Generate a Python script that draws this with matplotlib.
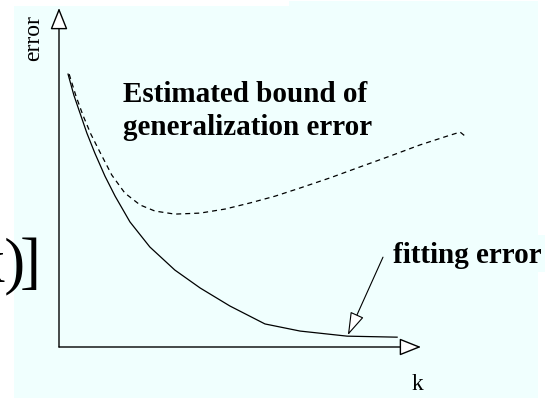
import matplotlib.pyplot as plt
from matplotlib.patches import Polygon, Rectangle

# k values and error values of the two curves (axis runs 0..10 in both directions)
k_fit = [0.25, 0.41, 0.58, 0.77, 0.99, 1.27, 1.55, 1.96, 2.51, 3.20, 3.90, 4.72, 5.69, 6.66, 7.96, 9.34]
err_fit = [8.05, 7.43, 6.90, 6.31, 5.72, 5.04, 4.45, 3.69, 2.95, 2.27, 1.74, 1.21, 0.68, 0.47, 0.32, 0.29]

k_bound = [0.28, 0.47, 0.66, 0.88, 1.13, 1.46, 1.82, 2.24, 2.65, 3.20, 3.90, 4.59, 5.28,
           5.97, 6.66, 7.49, 8.31, 9.14, 9.97, 10.72, 11.08, 11.22]
err_bound = [8.05, 7.40, 6.84, 6.28, 5.75, 5.07, 4.54, 4.19, 4.01, 3.92, 3.95, 4.07, 4.25,
             4.45, 4.69, 4.99, 5.31, 5.63, 5.96, 6.22, 6.34, 6.22]

W, H = 558, 398
fig = plt.figure(figsize=(W / 100, H / 100), dpi=100)
plt.rcParams['font.family'] = ['Liberation Serif', 'DejaVu Serif']

# overlay in pixel units for the background sheet and loose text
ov = fig.add_axes([0, 0, 1, 1])
ov.set_xlim(0, W)
ov.set_ylim(H, 0)
ov.axis('off')
sheet = Polygon([(14, 6), (289, 6), (289, 1), (538, 1), (538, H), (14, H)],
                closed=True, fc='#f0fffe', ec='none')
ov.add_patch(sheet)
ov.add_patch(Rectangle((393, 235), 152, 37, fc='#f0fffe', ec='none'))
# tail of a formula running in from the left edge
ov.text(25.8, 281, 'x)', fontsize=45, ha='right', va='baseline')
ov.text(19.6, 281, ']', fontsize=45, ha='left', va='baseline')

# chart axes: origin at (59, 347) px, arrow tips at x=421 and y=8
x0, y0 = 59, 347
ax = fig.add_axes([x0 / W, (H - y0) / H, (421 - x0) / W, (y0 - 8) / H])
ax.set_xlim(0, 10)
ax.set_ylim(0, 10)
ax.axis('off')
ax.patch.set_alpha(0)

head = dict(arrowstyle='-|>,head_length=0.75,head_width=0.3', mutation_scale=18,
            fc='white', ec='black', lw=1.0, shrinkA=0, shrinkB=0)
ax.annotate('', xy=(10, 0), xytext=(0, 0), arrowprops=head, annotation_clip=False)
ax.annotate('', xy=(0, 10), xytext=(0, 0), arrowprops=head, annotation_clip=False)

ax.plot(k_fit, err_fit, color='black', lw=0.9, clip_on=False)
ax.plot(k_bound, err_bound, color='black', lw=0.9, linestyle=(0, (4.0, 3.2)), clip_on=False)

ax.annotate('', xy=(7.98, 0.35), xytext=(8.95, 2.65),
            arrowprops=dict(arrowstyle='-|>,head_length=0.8,head_width=0.25', mutation_scale=18,
                            fc='white', ec='black', lw=0.8, shrinkA=0, shrinkB=0),
            annotation_clip=False)

ov.text(34, 38, 'error', fontsize=17, rotation=90, ha='center', va='center')
ov.text(417, 390, 'k', fontsize=17, ha='center', va='baseline')
ov.text(123, 102, 'Estimated bound of', fontsize=21, fontweight='bold', va='baseline')
ov.text(123, 135, 'generalization error', fontsize=21, fontweight='bold', va='baseline')
ov.text(393, 263, 'fitting error', fontsize=21, fontweight='bold', va='baseline')

fig.savefig('out.png', dpi=100)
